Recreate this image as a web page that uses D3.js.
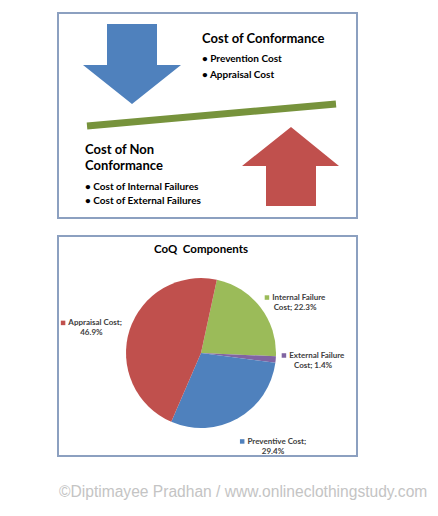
<!DOCTYPE html>
<html>
<head>
<meta charset="utf-8">
<script src="https://cdn.jsdelivr.net/npm/d3@7"></script>
<style>
  body { margin: 0; background: #fff; }
  svg { display: block; }
</style>
</head>
<body>
<script>

const W = 438;
const H = 516;

// data

const conformanceItems = ['Prevention Cost', 'Appraisal Cost'];
const nonConformanceItems = ['Cost of Internal Failures', 'Cost of External Failures'];

const sliceNames = ['Internal Failure Cost', 'External Failure Cost', 'Preventive Cost', 'Appraisal Cost'];
const sliceValues = [22.3, 1.4, 29.4, 46.9];
const sliceColors = ['#9bbb59', '#8064a2', '#4f81bd', '#c0504d'];

const boldFont = 'Lato, "Open Sans", sans-serif';

const svg = d3.select('body').append('svg').attr('width', W).attr('height', H);

// top diagram box

const diagBox = { x: 58, y: 13, w: 299, h: 205 };

svg.append('rect')
    .attr('x', diagBox.x).attr('y', diagBox.y).attr('width', diagBox.w).attr('height', diagBox.h)
    .attr('fill', '#fff').attr('stroke', '#8ca0c0').attr('stroke-width', 2);

// down arrow (conformance)
const downArrow = d3.path();
downArrow.moveTo(107, 24);
downArrow.lineTo(157, 24);
downArrow.lineTo(157, 65);
downArrow.lineTo(181, 65);
downArrow.lineTo(132, 104);
downArrow.lineTo(83, 65);
downArrow.lineTo(107, 65);
downArrow.closePath();
svg.append('path').attr('d', downArrow.toString()).attr('fill', '#4f81bd');

// up arrow (non conformance)
const upArrow = d3.path();
upArrow.moveTo(291, 127);
upArrow.lineTo(339, 166);
upArrow.lineTo(316, 166);
upArrow.lineTo(316, 206);
upArrow.lineTo(266, 206);
upArrow.lineTo(266, 166);
upArrow.lineTo(242, 166);
upArrow.closePath();
svg.append('path').attr('d', upArrow.toString()).attr('fill', '#c0504d');

// balance bar
svg.append('line')
    .attr('x1', 87).attr('y1', 126).attr('x2', 336).attr('y2', 104)
    .attr('stroke', '#77933c').attr('stroke-width', 7);

const txt = svg.append('g').attr('font-family', boldFont).attr('font-weight', 700).attr('fill', '#000');

txt.append('text').attr('x', 202).attr('y', 43).attr('font-size', 13).text('Cost of Conformance');

txt.selectAll('.conf').data(conformanceItems).enter().append('text')
    .attr('class', 'conf')
    .attr('x', 202)
    .attr('y', (d, i) => 62 + i * 16)
    .attr('font-size', 10)
    .text(d => '\u2022 ' + d);

txt.append('text').attr('x', 85).attr('y', 154).attr('font-size', 13).text('Cost of Non');
txt.append('text').attr('x', 85).attr('y', 170).attr('font-size', 13).text('Conformance');

txt.selectAll('.nonconf').data(nonConformanceItems).enter().append('text')
    .attr('class', 'nonconf')
    .attr('x', 85)
    .attr('y', (d, i) => 190 + i * 14)
    .attr('font-size', 10)
    .text(d => '\u2022 ' + d);


// pie chart box

const box = { x: 58, y: 236, w: 299, h: 220 };

svg.append('rect')
    .attr('x', box.x).attr('y', box.y).attr('width', box.w).attr('height', box.h)
    .attr('fill', '#fff').attr('stroke', '#8ca0c0').attr('stroke-width', 2);

svg.append('text')
    .attr('x', 201).attr('y', 253)
    .attr('text-anchor', 'middle')
    .attr('font-family', boldFont).attr('font-weight', 700).attr('font-size', 11.5)
    .style('white-space', 'pre')
    .text('CoQ  Components');

const cx = 201, cy = 353, r = 75;
const start = 12.2 * Math.PI / 180;

const pie = d3.pie().sort(null).startAngle(start).endAngle(start + 2 * Math.PI);
const arcs = pie(sliceValues);
const arc = d3.arc().innerRadius(0).outerRadius(r);

const pieG = svg.append('g').attr('transform', `translate(${cx},${cy})`);

pieG.selectAll('path').data(arcs).enter().append('path')
    .attr('d', arc)
    .attr('fill', (d, i) => sliceColors[i]);

// labels

const labelSize = 8;
const lineH = 10;
const maxLine = 64;

const labelG = pieG.append('g')
    .attr('font-family', boldFont).attr('font-weight', 700)
    .attr('font-size', labelSize).attr('fill', '#404040');

const measure = labelG.append('text').attr('visibility', 'hidden');
const textW = s => { measure.text(s); return measure.node().getComputedTextLength(); };

arcs.forEach((d, i) => {
    const full = `${sliceNames[i]}; ${sliceValues[i]}%`;
    const words = full.split(' ');
    const lines = [];
    let cur = '';
    words.forEach(w => {
        const test = cur ? cur + ' ' + w : w;
        if (cur && textW(test) > maxLine) { lines.push(cur); cur = w; } else cur = test;
    });
    lines.push(cur);

    const marker = 4.5, gap = 3;
    const widths = lines.map((l, j) => textW(l) + (j === 0 ? marker + gap : 0));
    const bw = d3.max(widths);
    const bh = lines.length * lineH;

    const a = (d.startAngle + d.endAngle) / 2;
    const s = Math.sin(a), c = Math.cos(a);
    const R1 = r + 8;
    const px = R1 * s, py = -R1 * c;

    // outside-end placement, pushed clear of the pie below it
    const left = s > 0.3 ? px - 2 : s < -0.3 ? px - bw : px - bw / 2;
    const topY = c < -0.3 ? py + 11 : py - bh / 2;

    const mid = left + bw / 2;
    lines.forEach((l, j) => {
        const lw = widths[j];
        const lx = mid - lw / 2;
        const base = topY + (j + 1) * lineH - 2.2;
        if (j === 0) {
            labelG.append('rect')
                .attr('x', lx).attr('y', base - marker - 0.3)
                .attr('width', marker).attr('height', marker)
                .attr('fill', sliceColors[i]);
            labelG.append('text').attr('x', lx + marker + gap).attr('y', base).text(l);
        } else {
            labelG.append('text').attr('x', lx).attr('y', base).text(l);
        }
    });
});

measure.remove();

// footer

svg.append('text')
    .attr('x', 59).attr('y', 497)
    .attr('font-family', '"Liberation Sans", Arial, sans-serif')
    .attr('font-size', 15.6)
    .attr('fill', '#c4c4c4')
    .text('\u00A9Diptimayee Pradhan / www.onlineclothingstudy.com');

</script>
</body>
</html>
